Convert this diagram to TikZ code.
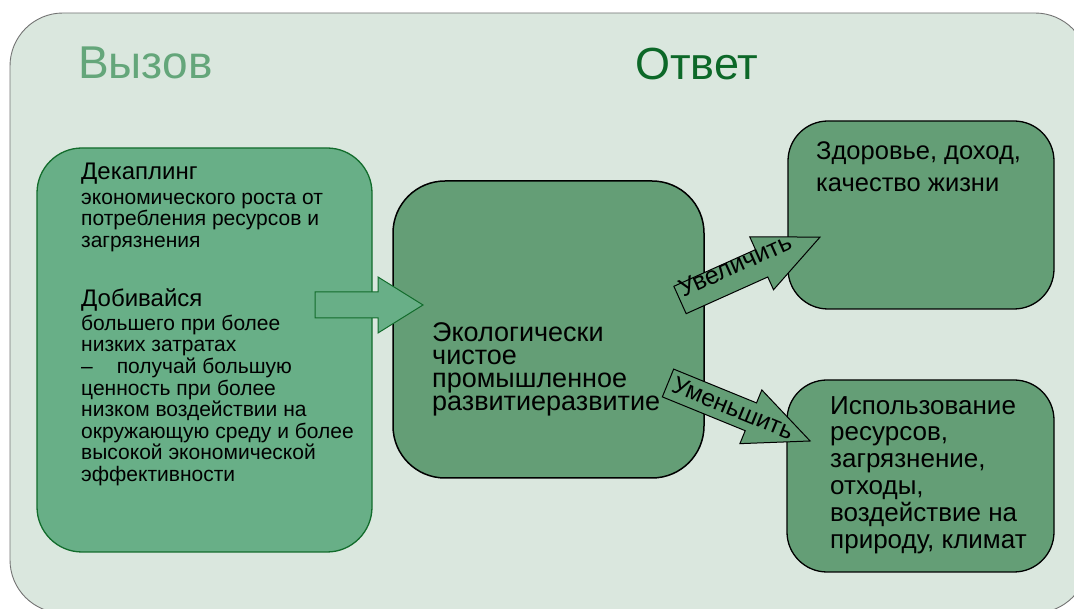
\documentclass[tikz,border=0pt]{standalone}
\usepackage{fontspec}
\setmainfont{Liberation Sans}
\definecolor{panelbg}{RGB}{218,231,222}
\definecolor{leftfill}{RGB}{104,175,135}
\definecolor{darkfill}{RGB}{100,158,118}
\definecolor{leftline}{RGB}{18,108,44}
\definecolor{titlelight}{RGB}{100,166,122}
\definecolor{titledark}{RGB}{12,104,40}
\tikzset{
  panel/.style={draw=black!55,line width=0.9pt,fill=panelbg,rounded corners=53pt},
  leftbox/.style={draw=leftline,line width=1.3pt,fill=leftfill,rounded corners=45pt,inner sep=0pt},
  midbox/.style={draw=black,line width=1.5pt,fill=darkfill,rounded corners=52pt,inner sep=0pt},
  sidebox/.style={draw=black,line width=1.3pt,fill=darkfill,rounded corners=40pt,inner sep=0pt},
  txt/.style={anchor=north west,align=left,inner sep=0pt},
  bigarrow/.style={draw=leftline,line width=1pt,fill=leftfill},
  smallarrow/.style={draw=black,line width=1pt,fill=darkfill},
}
\begin{document}
\begin{tikzpicture}[x=1pt,y=1pt]
\useasboundingbox (0,0) rectangle (1074,609);
\clip (0,0) rectangle (1074,609);
\draw[panel] (10,-4) rectangle (1088,596);

\coordinate (Dec) at (204.5,259);
\coordinate (Eco) at (548.5,279.5);
\coordinate (Zdr) at (921,394);
\coordinate (Isp) at (920.5,133);

\node[anchor=base west,inner sep=0pt,text=titlelight,font=\fontsize{46}{54}\selectfont] (vyz) at (78,530) {Вызов};
\node[anchor=base west,inner sep=0pt,text=titledark,font=\fontsize{45}{54}\selectfont] (otv) at (635,529) {Ответ};

\node[leftbox,minimum width=335,minimum height=404] (Dec) at (Dec) {};
\node[midbox,minimum width=311,minimum height=297] (Eco) at (Eco) {};
\node[sidebox,minimum width=266,minimum height=188] (Zdr) at (Zdr) {};
\node[sidebox,minimum width=267,minimum height=192] (Isp) at (Isp) {};

\node[txt,font={\fontsize{21}{21.6}\selectfont}] (dectxt) at (81,446) {{\fontsize{24}{22}\selectfont Декаплинг}\\[3pt]
экономического роста от\\
потребления ресурсов и\\
загрязнения\\[36pt]
{\fontsize{24}{22}\selectfont Добивайся}\\[2pt]
большего при более\\
низких затратах\\
–\hspace{24pt}получай большую\\
ценность при более\\
низком воздействии на\\
окружающую среду и более\\
высокой экономической\\
эффективности};
\node[txt,font={\fontsize{27}{23}\selectfont}] (ecotxt) at (432,287) {Экологически\\чистое\\промышленное\\развитиеразвитие};
\node[txt,font={\fontsize{25.5}{32}\selectfont}] (zdrtxt) at (816,467) {Здоровье, доход,\\качество жизни};
\node[txt,font={\fontsize{26}{26.8}\selectfont}] (isptxt) at (830,213) {Использование\\ресурсов,\\загрязнение,\\отходы,\\воздействие на\\природу, климат};

\draw[bigarrow] (315,317) -- (378,317) -- (378,332) -- (423,304) -- (378,276) -- (378,291) -- (315,291) -- cycle;

\begin{scope}[shift={(680,309)},rotate=24.2]
\draw[smallarrow] (0,15) -- (89.5,15) -- (89.5,29) -- (153.5,0) -- (89.5,-29) -- (89.5,-15) -- (0,-15) -- cycle;
\end{scope}
\begin{scope}[shift={(668,226)},rotate=-22.2]
\draw[smallarrow] (0,15) -- (89.5,15) -- (89.5,29) -- (153.5,0) -- (89.5,-29) -- (89.5,-15) -- (0,-15) -- cycle;
\end{scope}

\node[rotate=24.2,inner sep=0pt,font=\fontsize{25}{25}\selectfont] (uvel) at (735,344) {Увеличить};
\node[rotate=-22.2,inner sep=0pt,font=\fontsize{24.5}{25}\selectfont] (umen) at (733,201) {Уменьшить};

\end{tikzpicture}
\end{document}
